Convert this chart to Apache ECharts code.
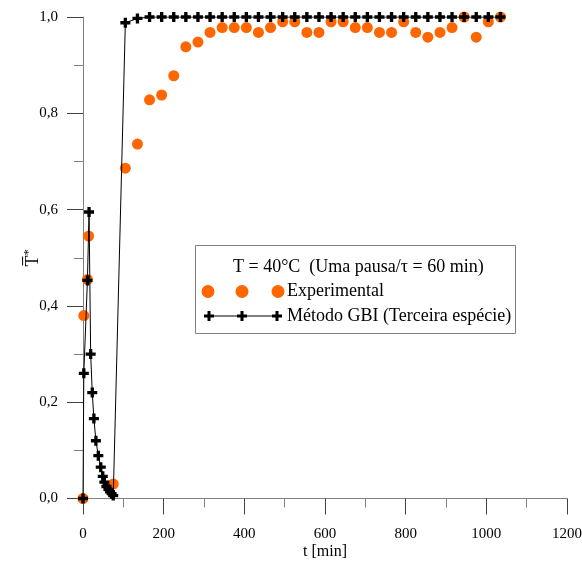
<!DOCTYPE html>
<html><head><meta charset="utf-8">
<script src="https://cdn.jsdelivr.net/npm/echarts@6/dist/echarts.min.js"></script>
<style>html,body{margin:0;padding:0;background:#fff}#c{width:582px;height:561px}</style>
</head><body><div id="c"></div>
<script>
// Experimental data (t in min, T* dimensionless)
const expTime  = [0, 2, 11, 14, 75, 105, 135, 165, 195, 225, 255, 285, 315, 345, 375, 405, 435, 465, 495, 525, 555, 585, 615, 645, 675, 705, 735, 765, 795, 825, 855, 885, 915, 945, 975, 1005, 1035];
const expValue = [0.0, 0.38, 0.455, 0.545, 0.03, 0.686, 0.736, 0.828, 0.838, 0.878, 0.938, 0.948, 0.968, 0.978, 0.978, 0.978, 0.968, 0.978, 0.99, 0.99, 0.968, 0.968, 0.99, 0.99, 0.978, 0.978, 0.968, 0.968, 0.99, 0.968, 0.958, 0.968, 0.978, 1.0, 0.958, 0.99, 1.0];
// Método GBI (Terceira espécie)
const gbiTime  = [0, 2, 11, 15, 19, 23, 27, 32, 38, 44, 49, 53, 58, 63, 67, 71, 75, 105, 135, 165, 195, 225, 255, 285, 315, 345, 375, 405, 435, 465, 495, 525, 555, 585, 615, 645, 675, 705, 735, 765, 795, 825, 855, 885, 915, 945, 975, 1005, 1035];
const gbiValue = [0.0, 0.26, 0.453, 0.595, 0.30, 0.22, 0.166, 0.12, 0.089, 0.065, 0.046, 0.034, 0.025, 0.019, 0.014, 0.010, 0.006, 0.988, 0.997, 1.0, 1.0, 1.0, 1.0, 1.0, 1.0, 1.0, 1.0, 1.0, 1.0, 1.0, 1.0, 1.0, 1.0, 1.0, 1.0, 1.0, 1.0, 1.0, 1.0, 1.0, 1.0, 1.0, 1.0, 1.0, 1.0, 1.0, 1.0, 1.0, 1.0];
const seriesNames = ['Experimental', 'Método GBI (Terceira espécie)'];
const legendTitle = 'T = 40°C  (Uma pausa/τ = 60 min)';
const xName = 't [min]';

const FONT = '"Liberation Serif", "Times New Roman", serif';
const ORANGE = '#ff6600';
const PLUS = 'path://M3,0H6V3H9V6H6V9H3V6H0V3H3Z';

function plusPts(cx, cy, s, t) {
  const h = s / 2, w = t / 2;
  return [[cx - w, cy - h], [cx + w, cy - h], [cx + w, cy - w], [cx + h, cy - w], [cx + h, cy + w], [cx + w, cy + w],
          [cx + w, cy + h], [cx - w, cy + h], [cx - w, cy + w], [cx - h, cy + w], [cx - h, cy - w], [cx - w, cy - w]];
}

const chart = echarts.init(document.getElementById('c'), null, {renderer: 'canvas'});
const axisCommon = {
  axisLine: {show: true, lineStyle: {color: '#808080', width: 1}},
  axisTick: {show: true, inside: false, length: 16, lineStyle: {color: '#404040', width: 1}},
  minorTick: {show: true, splitNumber: 2, length: 9, lineStyle: {color: '#808080', width: 1}},
  splitLine: {show: false},
  minorSplitLine: {show: false}
};
const legendItems = [];
[208, 242, 278].forEach(x => legendItems.push({type: 'circle', shape: {cx: x, cy: 291.5, r: 6.5}, style: {fill: ORANGE}, z: 101}));
legendItems.push({type: 'line', shape: {x1: 209, y1: 316, x2: 277, y2: 316}, style: {stroke: '#000', lineWidth: 1}, z: 101});
[209, 242, 277].forEach(x => legendItems.push({type: 'polygon', shape: {points: plusPts(x, 316, 10, 3)}, style: {fill: '#000'}, z: 102}));
const LFONT = '18px ' + FONT;

chart.setOption({
  animation: false,
  backgroundColor: '#fff',
  grid: {left: 83, right: 15, top: 17, bottom: 62.5, containLabel: false, outerBoundsMode: 'none'},
  xAxis: Object.assign({
    type: 'value', min: 0, max: 1200, interval: 200,
    name: xName, nameLocation: 'middle', nameGap: 45, nameMoveOverlap: false,
    nameTextStyle: {fontFamily: FONT, fontSize: 16, color: '#000'},
    axisLabel: {fontFamily: FONT, fontSize: 15, color: '#000', margin: 28, formatter: v => String(v)}
  }, axisCommon),
  yAxis: Object.assign({
    type: 'value', min: 0, max: 1, interval: 0.2,
    name: '{t|T\u0305}{s|*}', nameLocation: 'middle', nameRotate: 90, nameGap: 39, nameMoveOverlap: false,
    nameTextStyle: {fontFamily: FONT, fontSize: 18, color: '#000',
      rich: {t: {fontFamily: FONT, fontSize: 18, lineHeight: 22}, s: {fontFamily: FONT, fontSize: 13, verticalAlign: 'top'}}},
    axisLabel: {fontFamily: FONT, fontSize: 15, color: '#000', margin: 25, padding: [4, 0, 0, 0],
      formatter: v => v.toFixed(1).replace('.', ',')}
  }, axisCommon),
  series: [
    {name: seriesNames[0], type: 'scatter', symbol: 'circle', symbolSize: 11,
     itemStyle: {color: ORANGE, opacity: 1}, data: expTime.map((t, i) => [t, expValue[i]]), z: 2},
    {name: seriesNames[1], type: 'line', symbol: PLUS, symbolSize: 10, symbolKeepAspect: true, showAllSymbol: true,
     itemStyle: {color: '#000'}, lineStyle: {color: '#000', width: 1}, data: gbiTime.map((t, i) => [t, gbiValue[i]]), z: 3}
  ],
  graphic: [
    {type: 'rect', shape: {x: 195.5, y: 245.5, width: 320, height: 88}, style: {fill: '#fff', stroke: '#808080', lineWidth: 1}, z: 100},
    {type: 'text', x: 233, y: 267, style: {text: legendTitle, font: LFONT, fill: '#000', align: 'left', verticalAlign: 'middle'}, z: 101},
    {type: 'text', x: 287, y: 291.5, style: {text: seriesNames[0], font: LFONT, fill: '#000', align: 'left', verticalAlign: 'middle'}, z: 101},
    {type: 'text', x: 287, y: 316, style: {text: seriesNames[1], font: LFONT, fill: '#000', align: 'left', verticalAlign: 'middle'}, z: 101}
  ].concat(legendItems)
});
</script></body></html>
